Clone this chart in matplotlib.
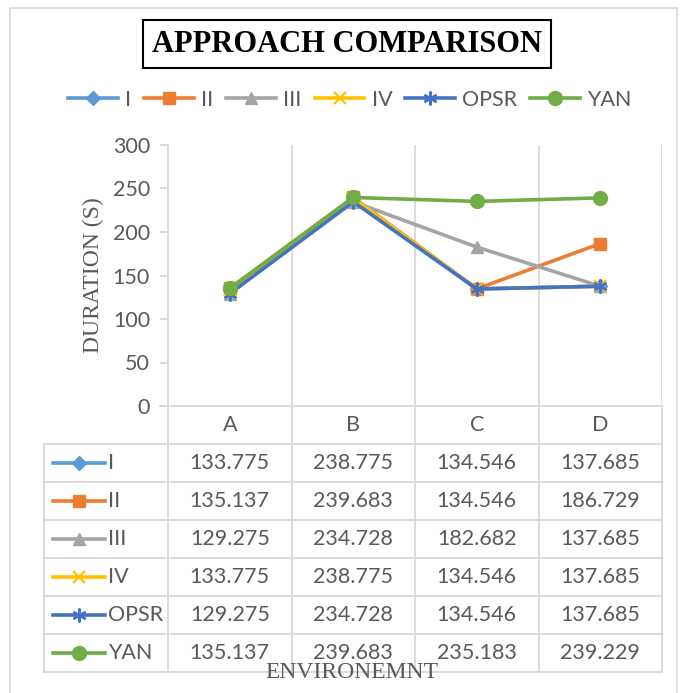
import matplotlib.pyplot as plt
from matplotlib.patches import Rectangle

# データ
categories = ["A", "B", "C", "D"]
series_names = ["I", "II", "III", "IV", "OPSR", "YAN"]
val_I = [133.775, 238.775, 134.546, 137.685]
val_II = [135.137, 239.683, 134.546, 186.729]
val_III = [129.275, 234.728, 182.682, 137.685]
val_IV = [133.775, 238.775, 134.546, 137.685]
val_OPSR = [129.275, 234.728, 134.546, 137.685]
val_YAN = [135.137, 239.683, 235.183, 239.229]
yticks = [0, 50, 100, 150, 200, 250, 300]

values = [val_I, val_II, val_III, val_IV, val_OPSR, val_YAN]
colors = ["#5B9BD5", "#ED7D31", "#A5A5A5", "#FFC000", "#4472C4", "#70AD47"]
markers = ["D", "s", "^", "x", (6, 2, 0), "o"]
msizes = [7, 9, 9, 9, 10, 10]

W, H = 686, 693
grid_c = "#D9D9D9"
txt_c = "#595959"
sans = "Lato"
serif = "Liberation Serif"
fs = 15.5

def fx(px):
    return px / W

def fy(py):
    return 1 - py / H

fig = plt.figure(figsize=(6.86, 6.93), dpi=100)

# 外枠
fig.patches.append(Rectangle((fx(10), fy(700)), fx(667), (700 - 8) / H, transform=fig.transFigure,
                             fill=False, edgecolor="#D9D9D9", linewidth=1.2))

# タイトル
fig.text(fx(347), fy(44), "APPROACH COMPARISON", ha="center", va="center", family=serif,
         fontsize=22, fontweight="bold",
         bbox=dict(facecolor="w", edgecolor="k", linewidth=1.5, boxstyle="square", pad=0.3))

# グラフ本体
x0, x1, ytop, ybot = 168, 662, 145, 406
ax = fig.add_axes([fx(x0), fy(ybot), fx(x1 - x0), (ybot - ytop) / H])
xs = [i + 0.5 for i in range(len(categories))]
handles = []
for name, v, c, m, ms in zip(series_names, values, colors, markers, msizes):
    mew = 1.6 if m in ("x", (6, 2, 0)) else 1
    h, = ax.plot(xs, v, color=c, linewidth=2.6, marker=m, markersize=ms, markeredgewidth=mew,
                 markeredgecolor=c, markerfacecolor=c, label=name, solid_joinstyle="round")
    handles.append(h)
ax.set_xlim(0, len(categories))
ax.set_ylim(0, 300)
ax.set_yticks(yticks)
ax.set_xticks([])
for s in ["top", "right", "bottom"]:
    ax.spines[s].set_visible(False)
ax.spines["left"].set_color(grid_c)
ax.spines["left"].set_linewidth(1.3)
ax.tick_params(axis="y", length=6, width=1.3, color=grid_c, labelcolor=txt_c, labelsize=fs, pad=7)
for lab in ax.get_yticklabels():
    lab.set_family(sans)
for i in range(1, len(categories) + 1):
    ax.axvline(i, color=grid_c, linewidth=1.3, zorder=0)
ax.set_ylabel("DURATION (S)", family=serif, fontsize=17, color=txt_c, labelpad=6)

# データテーブル
tl, ttop, tbot = 44, 406, 672
tax = fig.add_axes([fx(tl), fy(tbot), fx(x1 - tl), (tbot - ttop) / H])
tax.set_xlim(-(x0 - tl) / ((x1 - x0) / 4), 4)
tax.set_ylim(7, 0)
tax.axis("off")
xl = tax.get_xlim()[0]
lk = dict(color=grid_c, linewidth=1.3, clip_on=False)
tax.plot([-0.065, 4], [0, 0], **lk)
for j in range(1, 8):
    tax.plot([xl, 4], [j, j], **lk)
for i in range(0, 5):
    tax.plot([i, i], [0, 7], **lk)
tax.plot([xl, xl], [1, 7], **lk)
for i, cat in enumerate(categories):
    tax.text(i + 0.5, 0.5, cat, ha="center", va="center", family=sans, fontsize=fs, color=txt_c)
for r, (name, v, c, m, ms) in enumerate(zip(series_names, values, colors, markers, msizes)):
    yy = r + 1.5
    mew = 1.6 if m in ("x", (6, 2, 0)) else 1
    tax.plot([xl + 0.07, xl + 0.49], [yy, yy], color=c, linewidth=2.6, clip_on=False)
    tax.plot([xl + 0.28], [yy], color=c, marker=m, markersize=ms, markeredgewidth=mew,
             markeredgecolor=c, markerfacecolor=c, clip_on=False)
    tax.text(xl + 0.52, yy, name, ha="left", va="center", family=sans, fontsize=fs, color=txt_c)
    for i, val in enumerate(v):
        tax.text(i + 0.5, yy, f"{val:.3f}", ha="center", va="center", family=sans, fontsize=fs, color=txt_c)

fig.text(fx(352), fy(673), "ENVIRONEMNT", ha="center", va="center", family=serif, fontsize=17, color=txt_c)

# 凡例
fig.legend(handles=handles, loc="center", bbox_to_anchor=(fx(350), fy(100)), ncol=6, frameon=False,
           handlelength=2.3, handletextpad=0.35, columnspacing=0.6, prop=dict(family=sans, size=fs),
           labelcolor=txt_c)

fig.savefig("out.png", dpi=100)
